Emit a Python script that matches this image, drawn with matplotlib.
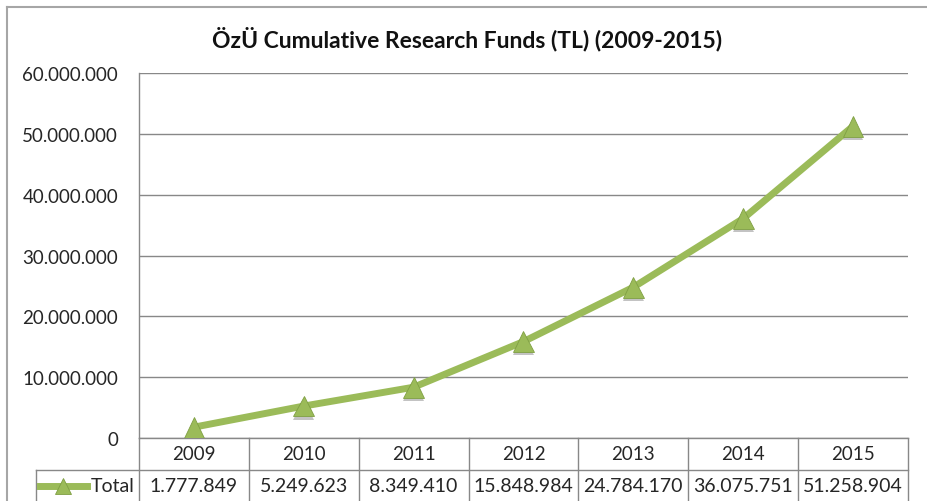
import matplotlib
matplotlib.use("Agg")
import matplotlib.pyplot as plt
from matplotlib.lines import Line2D
from matplotlib.transforms import blended_transform_factory
from matplotlib.ticker import FuncFormatter
import matplotlib.patheffects as pe

years = ["2009", "2010", "2011", "2012", "2013", "2014", "2015"]
totals = [1777849, 5249623, 8349410, 15848984, 24784170, 36075751, 51258904]
series_name = "Total"
title = "ÖzÜ Cumulative Research Funds (TL) (2009-2015)"

GREEN = "#9bbb59"
GREEN_DARK = "#7f9f43"
GRID = "#888888"
TEXT = "#262626"

plt.rcParams["font.family"] = ["Lato", "DejaVu Sans"]

W, H = 928, 502
fig = plt.figure(figsize=(W / 100, H / 100), dpi=100)

# plot area in pixels: x 139..908, y 74..439
left, right, top, bottom = 139, 908, 74, 439
ax = fig.add_axes([left / W, 1 - bottom / H, (right - left) / W, (bottom - top) / H])

def dots(v, pos=None):
    return f"{int(v):,}".replace(",", ".")

shadow = [pe.SimplePatchShadow(offset=(0, -2.5), shadow_rgbFace="#555555", alpha=0.35), pe.Normal()]

xs = list(range(len(years)))
ax.plot(xs, totals, color=GREEN, lw=5.0, solid_capstyle="butt", zorder=3)
ax.plot(xs, totals, ls="none", marker="^", ms=15, color=GREEN,
        markeredgecolor=GREEN_DARK, markeredgewidth=0.6, zorder=4,
        path_effects=shadow)

ax.set_xlim(-0.5, len(years) - 0.5)
ax.set_ylim(0, 60_000_000)
ax.set_yticks(range(0, 60_000_001, 10_000_000))
ax.yaxis.set_major_formatter(FuncFormatter(dots))
ax.set_xticks([])
ax.tick_params(axis="y", length=0, pad=15, labelsize=13.5, labelcolor=TEXT)
ax.grid(axis="y", color=GRID, lw=1.0)
ax.set_axisbelow(True)
for side in ["top", "right"]:
    ax.spines[side].set_visible(False)
for side in ["left", "bottom"]:
    ax.spines[side].set_color(GRID)
    ax.spines[side].set_linewidth(1.0)

fig.text(467 / W, 1 - 39 / H, title, ha="center", va="center",
         fontsize=16.5, fontweight="bold", color="#111111")

# data table under the plot area
trans = blended_transform_factory(ax.transData, ax.transAxes)
row_h = 32 / (bottom - top)
label_x0 = -0.5 - (left - 36) / ((right - left) / len(years))
line_kw = dict(color=GRID, lw=1.0, transform=trans, clip_on=False)

for i in range(len(years) + 1):
    ax.add_line(Line2D([i - 0.5, i - 0.5], [0, -2 * row_h], **line_kw))
ax.add_line(Line2D([label_x0, len(years) - 0.5], [-row_h, -row_h], **line_kw))
ax.add_line(Line2D([label_x0, label_x0], [-row_h, -2 * row_h], **line_kw))

for i, (yr, v) in enumerate(zip(years, totals)):
    ax.text(i, -0.5 * row_h, yr, transform=trans, ha="center", va="center",
            fontsize=13.5, color=TEXT, clip_on=False)
    ax.text(i, -1.5 * row_h, dots(v), transform=trans, ha="center", va="center",
            fontsize=14, color=TEXT, clip_on=False)

# legend key in the row header
key_x = [label_x0 + 0.04, label_x0 + 0.46]
ax.add_line(Line2D(key_x, [-1.5 * row_h] * 2, color=GREEN, lw=5.0,
                   transform=trans, clip_on=False))
ax.add_line(Line2D([sum(key_x) / 2], [-1.5 * row_h], ls="none", marker="^", ms=11,
                   color=GREEN, markeredgecolor=GREEN_DARK, markeredgewidth=0.6,
                   transform=trans, clip_on=False))
ax.text(-0.54, -1.5 * row_h, series_name, transform=trans, ha="right", va="center",
        fontsize=14, color=TEXT, clip_on=False)

# outer chart border (top and left visible)
fig.add_artist(Line2D([7 / W, 1], [1 - 8 / H] * 2, color="#a6a6a6", lw=1.5,
                      transform=fig.transFigure))
fig.add_artist(Line2D([7 / W] * 2, [1 - 8 / H, 0], color="#a6a6a6", lw=1.5,
                      transform=fig.transFigure))

fig.savefig("out.png", dpi=100)
